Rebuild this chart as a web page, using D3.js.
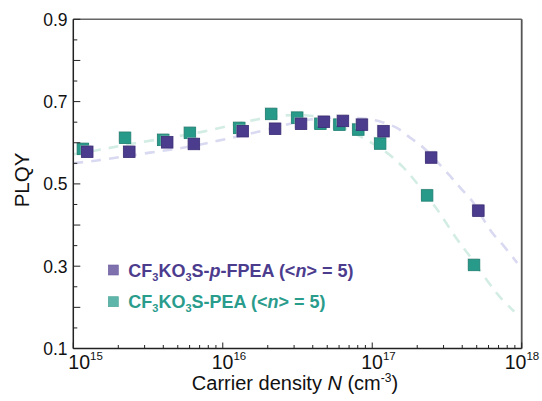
<!DOCTYPE html>
<html><head><meta charset="utf-8">
<script src="https://cdn.jsdelivr.net/npm/d3@7"></script>
<style>
body{margin:0;background:#fff;}
text{font-family:"Liberation Sans",Arial,Helvetica,sans-serif;}
</style></head>
<body><svg id="c" width="542" height="401"></svg>
<script>
// ---- data ----
const seriesNames = ["CF3KO3S-p-FPEA", "CF3KO3S-PEA"];
// CF3KO3S-p-FPEA (<n> = 5)
const fpeaN    = [1.24e15, 2.37e15, 4.25e15, 6.41e15, 1.36e16, 2.24e16, 3.34e16, 4.75e16, 6.37e16, 8.54e16, 1.19e17, 2.48e17, 5.13e17];
const fpeaPLQY = [0.578, 0.578, 0.601, 0.597, 0.628, 0.634, 0.646, 0.651, 0.653, 0.644, 0.628, 0.564, 0.435];
// CF3KO3S-PEA (<n> = 5)
const peaN     = [1.16e15, 2.22e15, 4.0e15, 6.03e15, 1.29e16, 2.11e16, 3.15e16, 4.50e16, 6.03e16, 8.07e16, 1.13e17, 2.33e17, 4.80e17];
const peaPLQY  = [0.585, 0.612, 0.607, 0.624, 0.636, 0.670, 0.661, 0.646, 0.644, 0.632, 0.598, 0.472, 0.303];
// fitted curves (dashed): log10(N) and PLQY
const fpeaFitLogN = [15.0, 15.157, 15.513, 15.759, 15.982, 16.228, 16.45, 16.584, 16.78, 16.941, 17.053, 17.165, 17.254, 17.343, 17.51, 17.588, 17.667, 17.722, 17.8, 17.878, 17.97];
const fpeaFitPLQY = [0.550, 0.557, 0.576, 0.5895, 0.606, 0.626, 0.646, 0.6565, 0.661, 0.659, 0.6516, 0.636, 0.612, 0.588, 0.5235, 0.491, 0.459, 0.427, 0.3825, 0.350, 0.308];
const peaFitLogN = [15.0, 15.133, 15.401, 15.869, 16.227, 16.405, 16.55, 16.65, 16.896, 17.097, 17.208, 17.287, 17.432, 17.566, 17.633, 17.777, 17.855, 17.95];
const peaFitPLQY = [0.572, 0.580, 0.598, 0.627, 0.6565, 0.666, 0.667, 0.661, 0.620, 0.576, 0.540, 0.507, 0.439, 0.366, 0.334, 0.261, 0.225, 0.190];
const yTickLabels = [0.1, 0.3, 0.5, 0.7, 0.9];
const xTickExps = [15, 16, 17, 18];

// ---- layout ----
const L = 73.3, R = 521.7, T = 19.3, B = 348.5;
const x = d3.scaleLog().domain([1e15, 1e18]).range([L, R]);
const y = d3.scaleLinear().domain([0.1, 0.9]).range([B, T]);
const svg = d3.select("#c");

const colP = "#4c3c8e", colPs = "#3a2b75";
const colT = "#279a8a", colTs = "#1d7f71";

// fit curves
const line = d3.line().x(d => x(Math.pow(10, d[0]))).y(d => y(d[1])).curve(d3.curveCatmullRom.alpha(0.5));
svg.append("path").datum(fpeaFitLogN.map((v, i) => [v, fpeaFitPLQY[i]]))
  .attr("d", line).attr("fill", "none").attr("stroke", "#d9d9f1").attr("stroke-width", 2.6)
  .attr("stroke-dasharray", "10,8");
svg.append("path").datum(peaFitLogN.map((v, i) => [v, peaFitPLQY[i]]))
  .attr("d", line).attr("fill", "none").attr("stroke", "#d3ede4").attr("stroke-width", 2.6)
  .attr("stroke-dasharray", "10,8");

// markers
const S = 11.5;
function drawPts(N, P, fill, stroke) {
  const g = svg.append("g");
  g.selectAll("rect.sh").data(N).enter().append("rect")
    .attr("x", (d, i) => x(d) - S / 2 - 1).attr("y", (d, i) => y(P[i]) - S / 2 - 1)
    .attr("width", S).attr("height", S).attr("fill", "#cfcfcf").attr("opacity", 0.5);
  g.selectAll("rect.pt").data(N).enter().append("rect")
    .attr("x", (d, i) => x(d) - S / 2).attr("y", (d, i) => y(P[i]) - S / 2)
    .attr("width", S).attr("height", S).attr("fill", fill).attr("stroke", stroke).attr("stroke-width", 0.8);
}
drawPts(peaN, peaPLQY, colT, colTs);
drawPts(fpeaN, fpeaPLQY, colP, colPs);

// frame
svg.append("line").attr("x1", L).attr("x2", R).attr("y1", T).attr("y2", T).attr("stroke", "#666").attr("stroke-width", 1.5);
svg.append("line").attr("x1", R).attr("x2", R).attr("y1", T).attr("y2", B).attr("stroke", "#555").attr("stroke-width", 1.8);
svg.append("line").attr("x1", L).attr("x2", L).attr("y1", T).attr("y2", B).attr("stroke", "#222").attr("stroke-width", 1.5);
svg.append("line").attr("x1", L).attr("x2", R).attr("y1", B).attr("y2", B).attr("stroke", "#222").attr("stroke-width", 1.5);

// y ticks (inward)
const yt = d3.range(0, 17).map(i => 0.1 + i * 0.05);
svg.append("g").selectAll("line").data(yt).enter().append("line")
  .attr("x1", L).attr("x2", (d, i) => L + (i % 2 === 0 ? 7 : 4))
  .attr("y1", d => y(d)).attr("y2", d => y(d)).attr("stroke", "#222").attr("stroke-width", 1);
svg.append("g").selectAll("text").data(yTickLabels).enter().append("text")
  .attr("x", 67.5).attr("y", d => y(d) + 6.5).attr("text-anchor", "end")
  .attr("font-size", 17.5).attr("fill", "#111").text(d => d.toFixed(1));

// x ticks (inward)
const xt = [];
for (let e = 15; e < 18; e++) for (let m = 1; m < 10; m++) xt.push(m * Math.pow(10, e));
xt.push(1e18);
svg.append("g").selectAll("line").data(xt).enter().append("line")
  .attr("x1", d => x(d)).attr("x2", d => x(d)).attr("y1", B)
  .attr("y2", d => B - (Math.abs(Math.log10(d) - Math.round(Math.log10(d))) < 1e-9 ? 6 : 3.5))
  .attr("stroke", "#222").attr("stroke-width", 1);
const xOff = {15: -5, 16: -11, 17: -11, 18: -17};
const xl = svg.append("g").selectAll("text").data(xTickExps).enter().append("text")
  .attr("x", d => x(Math.pow(10, d)) + xOff[d]).attr("y", 368.5)
  .attr("font-size", 19.5).attr("fill", "#111");
xl.append("tspan").text("10");
xl.append("tspan").attr("font-size", 11.5).attr("dy", -9).text(d => d);

// axis titles
svg.append("text").attr("transform", "translate(28.5,180) rotate(-90)").attr("text-anchor", "middle")
  .attr("font-size", 20.5).attr("fill", "#111").text("PLQY");
const xtit = svg.append("text").attr("x", 295).attr("y", 390).attr("text-anchor", "middle")
  .attr("font-size", 20).attr("fill", "#111");
xtit.append("tspan").text("Carrier density ");
xtit.append("tspan").attr("font-style", "italic").text("N");
xtit.append("tspan").text(" (cm");
xtit.append("tspan").attr("font-size", 12).attr("dy", -8).text("-3");
xtit.append("tspan").attr("dy", 8).text(")");

// legend
const legend = [
  {name: seriesNames[0], y: 270, box: "#7f70ae", boxS: "#6d5e9f", text: colP, italicP: true},
  {name: seriesNames[1], y: 301.7, box: "#5db6a9", boxS: "#4aa496", text: "#2a9c8c", italicP: false}
];
legend.forEach(l => {
  svg.append("rect").attr("x", 113.3 - 5).attr("y", l.y - 5).attr("width", 10).attr("height", 10)
    .attr("fill", l.box).attr("stroke", l.boxS).attr("stroke-width", 0.6);
  const t = svg.append("text").attr("x", 128.3).attr("y", l.y + 6.5).attr("font-size", 18)
    .attr("font-weight", "bold").attr("fill", l.text);
  t.append("tspan").text("CF");
  t.append("tspan").attr("font-size", 11).attr("dy", 4).text("3");
  t.append("tspan").attr("dy", -4).text("KO");
  t.append("tspan").attr("font-size", 11).attr("dy", 4).text("3");
  if (l.italicP) {
    t.append("tspan").attr("dy", -4).text("S-");
    t.append("tspan").attr("font-style", "italic").text("p");
    t.append("tspan").text("-FPEA (<");
  } else {
    t.append("tspan").attr("dy", -4).text("S-PEA (<");
  }
  t.append("tspan").attr("font-style", "italic").text("n");
  t.append("tspan").text("> = 5)");
});
</script></body></html>
